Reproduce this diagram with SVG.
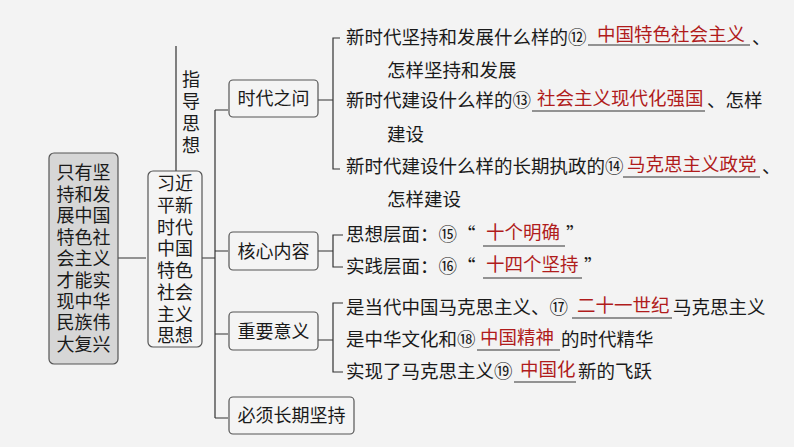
<svg xmlns="http://www.w3.org/2000/svg" width="794" height="447" viewBox="0 0 794 447">
<style>
text{font-family:"Noto Sans CJK SC","Liberation Sans",sans-serif;font-size:18.5px;fill:#1a1a1a}
.big{font-size:18px}
.ans{fill:#b01c1c}
.box{fill:#f4f4f4;stroke:#555;stroke-width:1.2}
.ln{fill:none;stroke:#333;stroke-width:1.2}
</style>
<rect width="794" height="447" fill="#f3f3f3"/>
<g id="connectors" class="ln">
<path d="M118 258H146M176 46V171M202 258H215M215 110V418M215 110H228M215 251H228M215 334H228M215 418H228"/>
<path d="M318 100H333M340 38H333V169H340"/>
<path d="M318 251H333M343 235H333V267H343"/>
<path d="M318 340H333M343 303H333V372H343"/>
<path d="M588 45H750M532 111H705M623 177H760M483 246H565M483 278H582M572 318H672M477 350H560M514 382H576"/>
</g>
<g id="root"><rect x="49" y="153" width="69" height="211" rx="5" fill="#d6d6d6" stroke="#555" stroke-width="1.2"/>
<text class="big" x="83.5" text-anchor="middle"><tspan x="83.5" y="179">只有坚</tspan><tspan x="83.5" y="201">持和发</tspan><tspan x="83.5" y="222">展中国</tspan><tspan x="83.5" y="244">特色社</tspan><tspan x="83.5" y="265">会主义</tspan><tspan x="83.5" y="287">才能实</tspan><tspan x="83.5" y="308">现中华</tspan><tspan x="83.5" y="329">民族伟</tspan><tspan x="83.5" y="351">大复兴</tspan></text></g>
<g id="xi"><rect class="box" x="148" y="171" width="54" height="176" rx="5"/>
<text class="big" text-anchor="middle"><tspan x="175" y="190">习近</tspan><tspan x="175" y="212">平新</tspan><tspan x="175" y="234">时代</tspan><tspan x="175" y="255">中国</tspan><tspan x="175" y="277">特色</tspan><tspan x="175" y="299">社会</tspan><tspan x="175" y="321">主义</tspan><tspan x="175" y="342">思想</tspan></text></g>
<g id="guide"><text class="big" text-anchor="middle"><tspan x="191" y="86">指</tspan><tspan x="191" y="108">导</tspan><tspan x="191" y="130">思</tspan><tspan x="191" y="152">想</tspan></text></g>
<g id="n1"><rect class="box" x="229" y="80" width="89" height="37" rx="4"/><text class="big" x="273.5" y="105" text-anchor="middle">时代之问</text></g>
<g id="n2"><rect class="box" x="229" y="232" width="89" height="38" rx="4"/><text class="big" x="273.5" y="258" text-anchor="middle">核心内容</text></g>
<g id="n3"><rect class="box" x="229" y="312" width="89" height="38" rx="4"/><text class="big" x="273.5" y="338" text-anchor="middle">重要意义</text></g>
<g id="n4"><rect class="box" x="229" y="397" width="125" height="37" rx="4"/><text class="big" x="291.5" y="422" text-anchor="middle">必须长期坚持</text></g>
<g id="t1">
<text x="346" y="44">新时代坚持和发展什么样的⑫</text><text class="ans" x="597" y="41">中国特色社会主义</text><text x="752" y="44">、</text>
<text x="387" y="77">怎样坚持和发展</text>
<text x="346" y="107">新时代建设什么样的⑬</text><text class="ans" x="537" y="105">社会主义现代化强国</text><text x="707" y="107">、怎样</text>
<text x="387" y="141">建设</text>
<text x="346" y="173">新时代建设什么样的长期执政的⑭</text><text class="ans" x="627" y="171">马克思主义政党</text><text x="762" y="173">、</text>
<text x="387" y="206">怎样建设</text>
</g>
<g id="t2">
<text x="346" y="241">思想层面：⑮“</text><text class="ans" x="486" y="239">十个明确</text><text x="566" y="241">”</text>
<text x="346" y="273">实践层面：⑯“</text><text class="ans" x="486" y="271">十四个坚持</text><text x="584" y="273">”</text>
</g>
<g id="t3">
<text x="346" y="314">是当代中国马克思主义、⑰</text><text class="ans" x="577" y="312">二十一世纪</text><text x="673" y="314">马克思主义</text>
<text x="346" y="346">是中华文化和⑱</text><text class="ans" x="480" y="344">中国精神</text><text x="561" y="346">的时代精华</text>
<text x="346" y="378">实现了马克思主义⑲</text><text class="ans" x="520" y="376">中国化</text><text x="578" y="378">新的飞跃</text>
</g>
</svg>
